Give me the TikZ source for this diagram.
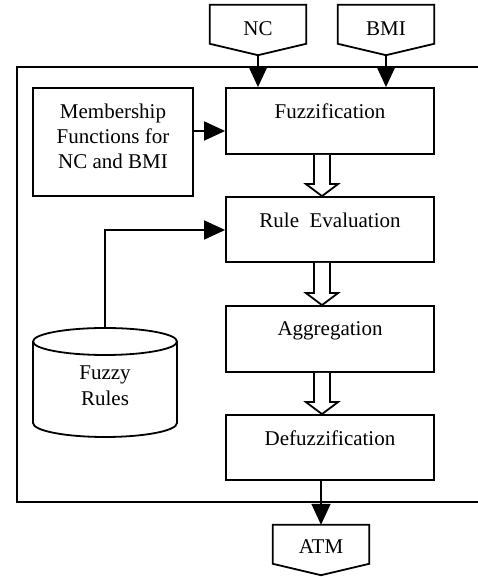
\documentclass[tikz,border=0pt]{standalone}
\usepackage{fontspec}
\setmainfont{Liberation Serif}
\usetikzlibrary{arrows.meta,calc}
\tikzset{
  ln/.style={line width=1.8pt, line join=miter},
  box/.style={draw, ln, minimum width=208pt, inner sep=0pt},
  txt/.style={anchor=base, inner sep=0pt, font=\fontsize{21}{25}\selectfont},
  arr/.style={ln, -{Triangle[length=21pt,width=19pt]}},
  hollow/.style={ln, fill=white},
  body/.style={minimum width=96pt, minimum height=50pt, inner sep=0pt}
}
\newcommand\hollowarrow[2]{%
  \draw[hollow] let \p1=(#1.south), \p2=(#2.north) in
    (\x1-16pt,\y1) -- (\x1-16pt,\y2+12pt) -- (\x1-24pt,\y2+12pt) -- (\x1-8pt,\y2)
    -- (\x1+8pt,\y2+12pt) -- (\x1,\y2+12pt) -- (\x1,\y1);}
\begin{document}
\begin{tikzpicture}[x=1pt,y=1pt]
\useasboundingbox (0,0) rectangle (477,577);
% outer frame
\draw[ln] (485,510) -- (17,510) -- (17,75) -- (485,75);
% input/output connectors
\node[body] (nc) at (258,547) {};
\node[body] (bmi) at (386,547) {};
\node[body] (atm) at (321,27) {};
\foreach \n in {nc,bmi,atm}{
  \draw[ln] (\n.north west) -- (\n.north east) -- ($(\n.north east)+(0,-39)$)
    -- (\n.south) -- ($(\n.north west)+(0,-39)$) -- cycle;
}
\node[txt] (tnc) at (258,541) {NC};
\node[txt] (tbmi) at (386,541) {BMI};
\node[txt] (tatm) at (321,23) {ATM};
% process boxes
\node[box, minimum height=66pt] (fuzz) at (330,456) {};
\node[box, minimum height=65pt] (rule) at (330,347.5) {};
\node[box, minimum height=66pt] (agg) at (330,238) {};
\node[box, minimum height=65pt] (defuzz) at (330,129.5) {};
\node[box, minimum width=160pt, minimum height=108pt] (memb) at (113,435) {};
\node[txt] (tfuzz) at (330,458) {Fuzzification};
\node[txt] (trule) at (330,349) {Rule\ \ Evaluation};
\node[txt] (tagg) at (330,241) {Aggregation};
\node[txt] (tdefuzz) at (330,131) {Defuzzification};
\node[txt] (tm1) at (113,458) {Membership};
\node[txt] (tm2) at (113,433) {Functions for};
\node[txt] (tm3) at (113,408) {NC and BMI};
% database cylinder
\coordinate (cyltop) at (105,249);
\draw[ln] (33,235.5) -- (33,154) arc[start angle=180,end angle=360,x radius=72,y radius=14] -- (177,235.5);
\draw[ln] (105,235.5) ellipse[x radius=72,y radius=13.5];
\node[txt] (tfz) at (105,197) {Fuzzy};
\node[txt] (trl) at (105,171) {Rules};
% connectors
\draw[arr] (nc.south) -- (nc.south |- fuzz.north);
\draw[arr] (bmi.south) -- (bmi.south |- fuzz.north);
\draw[arr] (memb.east |- 0,446) -- (fuzz.west |- 0,446);
\draw[arr] (cyltop) |- (rule.west |- 0,347);
\draw[arr] (atm.north |- defuzz.south) -- (atm.north);
\hollowarrow{fuzz}{rule}
\hollowarrow{rule}{agg}
\hollowarrow{agg}{defuzz}
\end{tikzpicture}
\end{document}
